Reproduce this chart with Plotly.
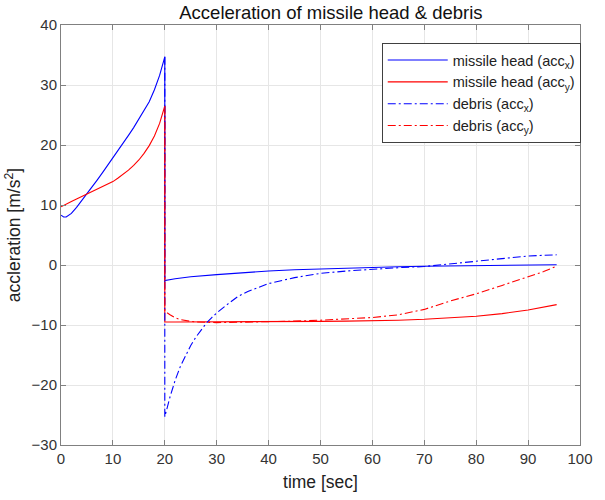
import plotly.graph_objects as go

# ---- data ----
t_head = [0, 0.5, 1, 2, 3, 4, 5, 6, 7, 8, 9, 10, 11, 12, 13, 14, 15, 16, 17, 18, 19, 20,
          20, 22, 25, 30, 35, 40, 45, 50, 55, 60, 65, 70, 75, 80, 85, 90, 95.5]
head_accx = [8.3, 8.0, 8.0, 8.6, 9.6, 10.7, 11.8, 13.0, 14.2, 15.4, 16.6, 17.8, 19.0, 20.3,
             21.6, 22.9, 24.3, 25.7, 27.2, 29.2, 31.6, 34.7,
             -2.6, -2.3, -1.95, -1.6, -1.25, -1.0, -0.8, -0.65, -0.5, -0.4, -0.3, -0.2,
             -0.15, -0.1, -0.05, 0.0, 0.05]
head_accy = [9.7, 9.95, 10.2, 10.6, 11.0, 11.4, 11.8, 12.2, 12.6, 13.0, 13.4, 13.9, 14.5,
             15.1, 15.8, 16.6, 17.5, 18.6, 19.9, 21.5, 23.6, 26.5,
             -9.5, -9.5, -9.5, -9.5, -9.5, -9.45, -9.45, -9.4, -9.35, -9.3, -9.2, -9.05,
             -8.85, -8.55, -8.1, -7.5, -6.6]

t_debris = [20, 20, 21, 22, 23, 24, 25, 26, 27, 28, 29, 30, 32, 34, 36, 38, 40, 45, 50, 55,
            60, 65, 70, 75, 80, 85, 90, 93, 95.5]
debris_accx = [34.7, -25.3, -22.0, -19.2, -16.9, -15.0, -13.4, -12.0, -10.8, -9.7, -8.8,
               -8.0, -6.6, -5.3, -4.4, -3.7, -3.1, -2.1, -1.4, -1.0, -0.7, -0.45, -0.25,
               0.2, 0.6, 1.1, 1.5, 1.62, 1.7]
debris_accy = [26.5, -7.7, -8.3, -8.8, -9.1, -9.3, -9.4, -9.5, -9.55, -9.6, -9.6, -9.6,
               -9.58, -9.56, -9.55, -9.52, -9.5, -9.35, -9.2, -9.0, -8.75, -8.3, -7.4,
               -6.0, -4.8, -3.4, -2.0, -1.1, -0.2]

x_ticks = [0, 10, 20, 30, 40, 50, 60, 70, 80, 90, 100]
y_ticks = [-30, -20, -10, 0, 10, 20, 30, 40]

BLUE = "#0000ff"
RED = "#ff0000"
DASHDOT = "8px,3px,2px,3px"
FONT = "Liberation Sans, Arial, sans-serif"

fig = go.Figure()
fig.add_trace(go.Scatter(x=t_head, y=head_accx, mode="lines",
                         line=dict(color=BLUE, width=1.1),
                         name="missile head (acc<sub>x</sub>)"))
fig.add_trace(go.Scatter(x=t_head, y=head_accy, mode="lines",
                         line=dict(color=RED, width=1.1),
                         name="missile head (acc<sub>y</sub>)"))
fig.add_trace(go.Scatter(x=t_debris, y=debris_accx, mode="lines",
                         line=dict(color=BLUE, width=1.1, dash=DASHDOT),
                         name="debris (acc<sub>x</sub>)"))
fig.add_trace(go.Scatter(x=t_debris, y=debris_accy, mode="lines",
                         line=dict(color=RED, width=1.1, dash=DASHDOT),
                         name="debris (acc<sub>y</sub>)"))

axis_common = dict(
    showline=True, linecolor="#808080", linewidth=1, mirror="ticks",
    ticks="inside", ticklen=5, tickcolor="#808080", tickwidth=1,
    showgrid=True, gridcolor="#e6e6e6", gridwidth=1,
    zeroline=False, ticklabeloverflow="allow",
    tickfont=dict(family=FONT, size=15, color="#333333"),
)

fig.update_layout(
    width=605, height=500,
    margin=dict(l=61, r=14, t=25, b=55),
    paper_bgcolor="white", plot_bgcolor="white",
    font=dict(family=FONT, color="#222222"),
    title=dict(text="Acceleration of missile head &amp; debris",
               x=0.547, xanchor="center", y=0.975, yanchor="middle",
               font=dict(family=FONT, size=18.5, color="#111111")),
    xaxis=dict(range=[0, 100], tickvals=x_ticks,
               title=dict(text="time [sec]", font=dict(family=FONT, size=17.5, color="#222222"),
                          standoff=9),
               **axis_common),
    yaxis=dict(range=[-30, 40], tickvals=y_ticks,
               title=dict(text="accleration [m/s<sup>2</sup>]",
                          font=dict(family=FONT, size=17.5, color="#222222"), standoff=6),
               **axis_common),
    legend=dict(x=0.618, y=0.957, xanchor="left", yanchor="top",
                bgcolor="white", bordercolor="#404040", borderwidth=1,
                font=dict(family=FONT, size=14.5, color="#222222"),
                itemwidth=60, tracegroupgap=0),
    showlegend=True,
)

fig.write_html("out.html")
